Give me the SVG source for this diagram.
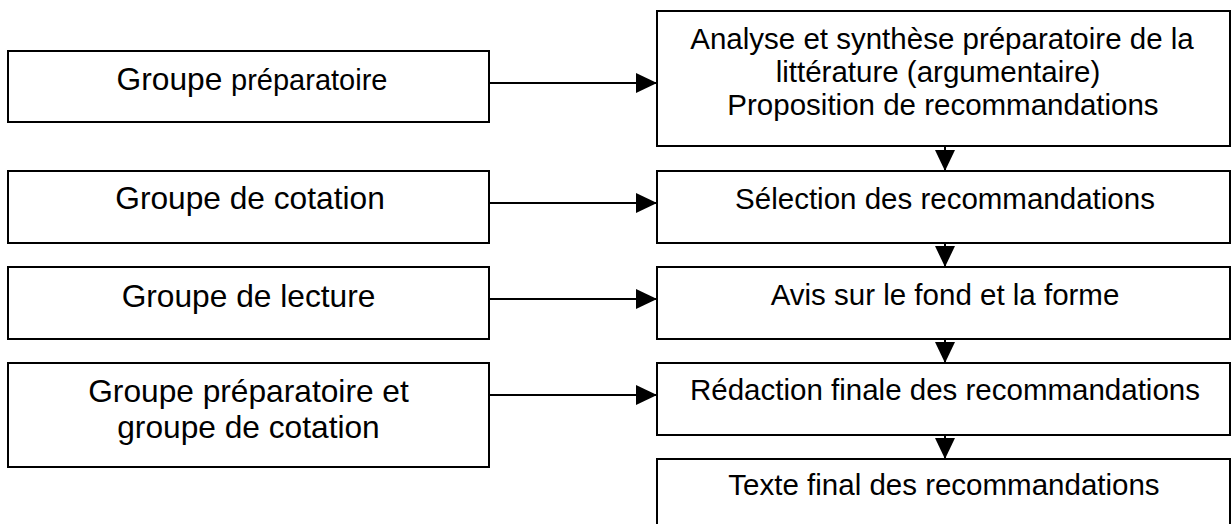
<svg xmlns="http://www.w3.org/2000/svg" width="1232" height="524" viewBox="0 0 1232 524">
<style>
.box{fill:#fff;stroke:#000;stroke-width:2}
.lt{font-family:"Liberation Sans",Arial,sans-serif;font-size:31.7px;fill:#000;text-anchor:middle}
.rt{font-family:"Liberation Sans",Arial,sans-serif;font-size:29.5px;fill:#000;text-anchor:middle}
.con{stroke:#000;stroke-width:2;fill:none;marker-end:url(#arr)}
</style>
<defs>
<marker id="arr" markerUnits="userSpaceOnUse" markerWidth="21" markerHeight="20" refX="21" refY="10" orient="auto" viewBox="0 0 21 20">
<path d="M0,0 L21,10 L0,20 z" fill="#000"/>
</marker>
</defs>
<rect width="1232" height="524" fill="#fff"/>
<g id="connectors">
<line class="con" x1="489" y1="83" x2="657" y2="83"/>
<line class="con" x1="489" y1="203" x2="657" y2="203"/>
<line class="con" x1="489" y1="299" x2="657" y2="299"/>
<line class="con" x1="489" y1="395" x2="657" y2="395"/>
<line class="con" x1="945" y1="146" x2="945" y2="171"/>
<line class="con" x1="945" y1="243" x2="945" y2="267"/>
<line class="con" x1="945" y1="339" x2="945" y2="363"/>
<line class="con" x1="945" y1="435" x2="945" y2="459"/>
</g>
<g id="L1">
<rect class="box" x="8" y="51" width="481" height="71"/>
<text class="lt" x="252" y="90">Groupe <tspan font-size="29">préparatoire</tspan></text>
</g>
<g id="L2">
<rect class="box" x="8" y="171" width="481" height="72"/>
<text class="lt" x="250" y="209">Groupe de cotation</text>
</g>
<g id="L3">
<rect class="box" x="8" y="267" width="481" height="72"/>
<text class="lt" x="248.5" y="307">Groupe de lecture</text>
</g>
<g id="L4">
<rect class="box" x="8" y="363" width="481" height="104"/>
<text class="lt" x="248.5" y="402">Groupe préparatoire et</text>
<text class="lt" x="248.5" y="438">groupe de cotation</text>
</g>
<g id="R1">
<rect class="box" x="657" y="11" width="573" height="135"/>
<text class="rt" x="942" y="49">Analyse et synthèse préparatoire de la</text>
<text class="rt" x="938" y="82">littérature (argumentaire)</text>
<text class="rt" x="943" y="115">Proposition de recommandations</text>
</g>
<g id="R2">
<rect class="box" x="657" y="171" width="573" height="72"/>
<text class="rt" x="945" y="209">Sélection des recommandations</text>
</g>
<g id="R3">
<rect class="box" x="657" y="267" width="573" height="72"/>
<text class="rt" x="945" y="305">Avis sur le fond et la forme</text>
</g>
<g id="R4">
<rect class="box" x="657" y="363" width="573" height="72"/>
<text class="rt" x="945" y="400">Rédaction finale des recommandations</text>
</g>
<g id="R5">
<rect class="box" x="657" y="459" width="573" height="90"/>
<text class="rt" x="944" y="495">Texte final des recommandations</text>
</g>
</svg>
